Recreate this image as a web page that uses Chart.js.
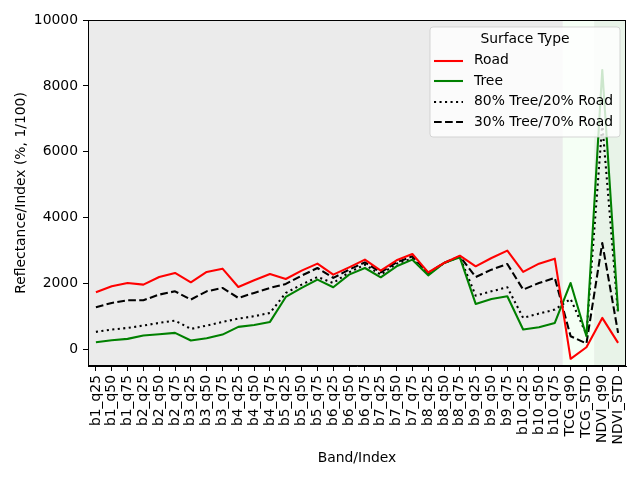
<!DOCTYPE html>
<html>
<head>
<meta charset="utf-8">
<script src="https://cdn.jsdelivr.net/npm/chart.js@4/dist/chart.umd.min.js"></script>
<style>
html,body{margin:0;padding:0;background:#fff;}
#wrap{width:640px;height:480px;}
</style>
</head>
<body>
<div id="wrap"><canvas id="c" width="640" height="480"></canvas></div>
<script>
const categories = ["b1_q25","b1_q50","b1_q75","b2_q25","b2_q50","b2_q75","b3_q25","b3_q50","b3_q75","b4_q25","b4_q50","b4_q75","b5_q25","b5_q50","b5_q75","b6_q25","b6_q50","b6_q75","b7_q25","b7_q50","b7_q75","b8_q25","b8_q50","b8_q75","b9_q25","b9_q50","b9_q75","b10_q25","b10_q50","b10_q75","TCG_q90","TCG_STD","NDVI_q90","NDVI_STD"];
const road = [1736,1918,2020,1970,2200,2323,2040,2354,2454,1899,2101,2293,2141,2394,2606,2272,2494,2727,2394,2707,2899,2343,2626,2848,2525,2778,3000,2354,2606,2757,-282,70,960,202];
const tree = [222,283,323,424,465,505,273,343,454,687,747,838,1596,1869,2121,1889,2272,2474,2192,2525,2727,2252,2626,2798,1384,1535,1616,606,677,808,2020,404,8485,1162];
const tree80road20 = [535,606,656,727,808,878,626,727,838,939,1010,1111,1717,1970,2200,2020,2343,2575,2272,2606,2757,2293,2626,2808,1636,1767,1889,960,1091,1212,1535,454,6850,1060];
const tree30road70 = [1283,1414,1495,1495,1667,1767,1515,1767,1869,1566,1717,1869,1990,2242,2474,2172,2424,2646,2343,2646,2828,2323,2626,2828,2200,2424,2596,1818,2020,2172,404,182,3232,505];
const yTicks = [0,2000,4000,6000,8000,10000];
const seriesNames = ["Road","Tree","80% Tree/20% Road","30% Tree/70% Road"];
const legendTitle = "Surface Type";
// shaded index groups (category index ranges)
const spans = [
  {from: 29.5, to: 31.5, color: "#f5fff5"},
  {from: 31.5, to: 33.5, color: "#e8f3e8"}
];

const FONT = "'DejaVu Sans', sans-serif";
const FS = 13.9;
const LW = 2.08;

const bgPlugin = {
  id: "bg",
  beforeDraw(chart) {
    const {ctx, chartArea: a, scales: {x}} = chart;
    ctx.save();
    ctx.fillStyle = "#ebebeb";
    ctx.fillRect(a.left, a.top, a.right - a.left, a.bottom - a.top);
    spans.forEach(s => {
      const x0 = x.getPixelForValue(s.from), x1 = x.getPixelForValue(s.to);
      ctx.fillStyle = s.color;
      ctx.fillRect(x0, a.top, x1 - x0, a.bottom - a.top);
    });
    ctx.restore();
  },
  afterDraw(chart) {
    const {ctx, chartArea: a} = chart;
    ctx.save();
    ctx.strokeStyle = "#000";
    ctx.lineWidth = 1;
    ctx.strokeRect(Math.round(a.left) + 0.5, Math.round(a.top) + 0.5, Math.round(a.right - a.left) - 1, Math.round(a.bottom - a.top) - 1);
    // legend
    const bx = 430, by = 27, bw = 190, bh = 110, r = 3;
    ctx.beginPath();
    ctx.moveTo(bx + r, by);
    ctx.arcTo(bx + bw, by, bx + bw, by + bh, r);
    ctx.arcTo(bx + bw, by + bh, bx, by + bh, r);
    ctx.arcTo(bx, by + bh, bx, by, r);
    ctx.arcTo(bx, by, bx + bw, by, r);
    ctx.closePath();
    ctx.fillStyle = "rgba(255,255,255,0.8)";
    ctx.fill();
    ctx.strokeStyle = "rgba(204,204,204,0.8)";
    ctx.stroke();
    ctx.font = FS + "px " + FONT;
    ctx.fillStyle = "#000";
    ctx.textBaseline = "middle";
    ctx.textAlign = "center";
    ctx.fillText(legendTitle, bx + bw / 2, 39.5);
    ctx.textAlign = "left";
    chart.data.datasets.forEach((ds, i) => {
      const y = 60.5 + i * 20.6;
      ctx.beginPath();
      ctx.setLineDash(ds.borderDash || []);
      ctx.strokeStyle = ds.borderColor;
      ctx.lineWidth = ds.borderWidth;
      ctx.lineCap = "butt";
      ctx.moveTo(434, Math.round(y));
      ctx.lineTo(463, Math.round(y));
      ctx.stroke();
      ctx.setLineDash([]);
      ctx.fillStyle = "#000";
      ctx.fillText(ds.label, 474, y);
    });
    ctx.restore();
  }
};

const mk = (label, data, color, dash) => ({
  label, data, borderColor: color, backgroundColor: color, borderWidth: LW,
  borderDash: dash, pointRadius: 0, fill: false, tension: 0, borderCapStyle: "butt", borderJoinStyle: "round"
});

new Chart(document.getElementById("c"), {
  type: "line",
  data: {
    labels: categories,
    datasets: [
      mk(seriesNames[0], road, "#ff0000", []),
      mk(seriesNames[1], tree, "#008000", []),
      mk(seriesNames[2], tree80road20, "#000000", [2.08, 3.43]),
      mk(seriesNames[3], tree30road70, "#000000", [7.7, 3.33])
    ]
  },
  plugins: [bgPlugin],
  options: {
    responsive: false,
    animation: false,
    layout: {padding: {top: 20, right: 14, left: 0, bottom: 0}},
    plugins: {legend: {display: false}, tooltip: {enabled: false}},
    scales: {
      x: {
        type: "category",
        offset: true,
        grid: {offset: false, drawOnChartArea: false, drawTicks: true, tickLength: 5, color: "#000"},
        border: {display: true, color: "#000"},
        ticks: {color: "#000", font: {family: FONT, size: FS}, maxRotation: 90, minRotation: 90, autoSkip: false, padding: 4},
        title: {display: true, text: "Band/Index", color: "#000", font: {family: FONT, size: FS}, padding: {top: 0, bottom: 13}},
        afterFit(s) { s.height = 114; }
      },
      y: {
        min: -500, max: 10000,
        grid: {drawOnChartArea: false, drawTicks: true, tickLength: 5, color: "#000"},
        border: {display: true, color: "#000"},
        ticks: {color: "#000", font: {family: FONT, size: FS}, padding: 5, callback: v => String(v)},
        afterBuildTicks(s) { s.ticks = yTicks.map(v => ({value: v})); },
        title: {display: true, text: "Reflectance/Index (%, 1/100)", color: "#000", font: {family: FONT, size: FS}, padding: {top: 13, bottom: 0}},
        afterFit(s) { s.width = 88; }
      }
    }
  }
});
</script>
</body>
</html>
